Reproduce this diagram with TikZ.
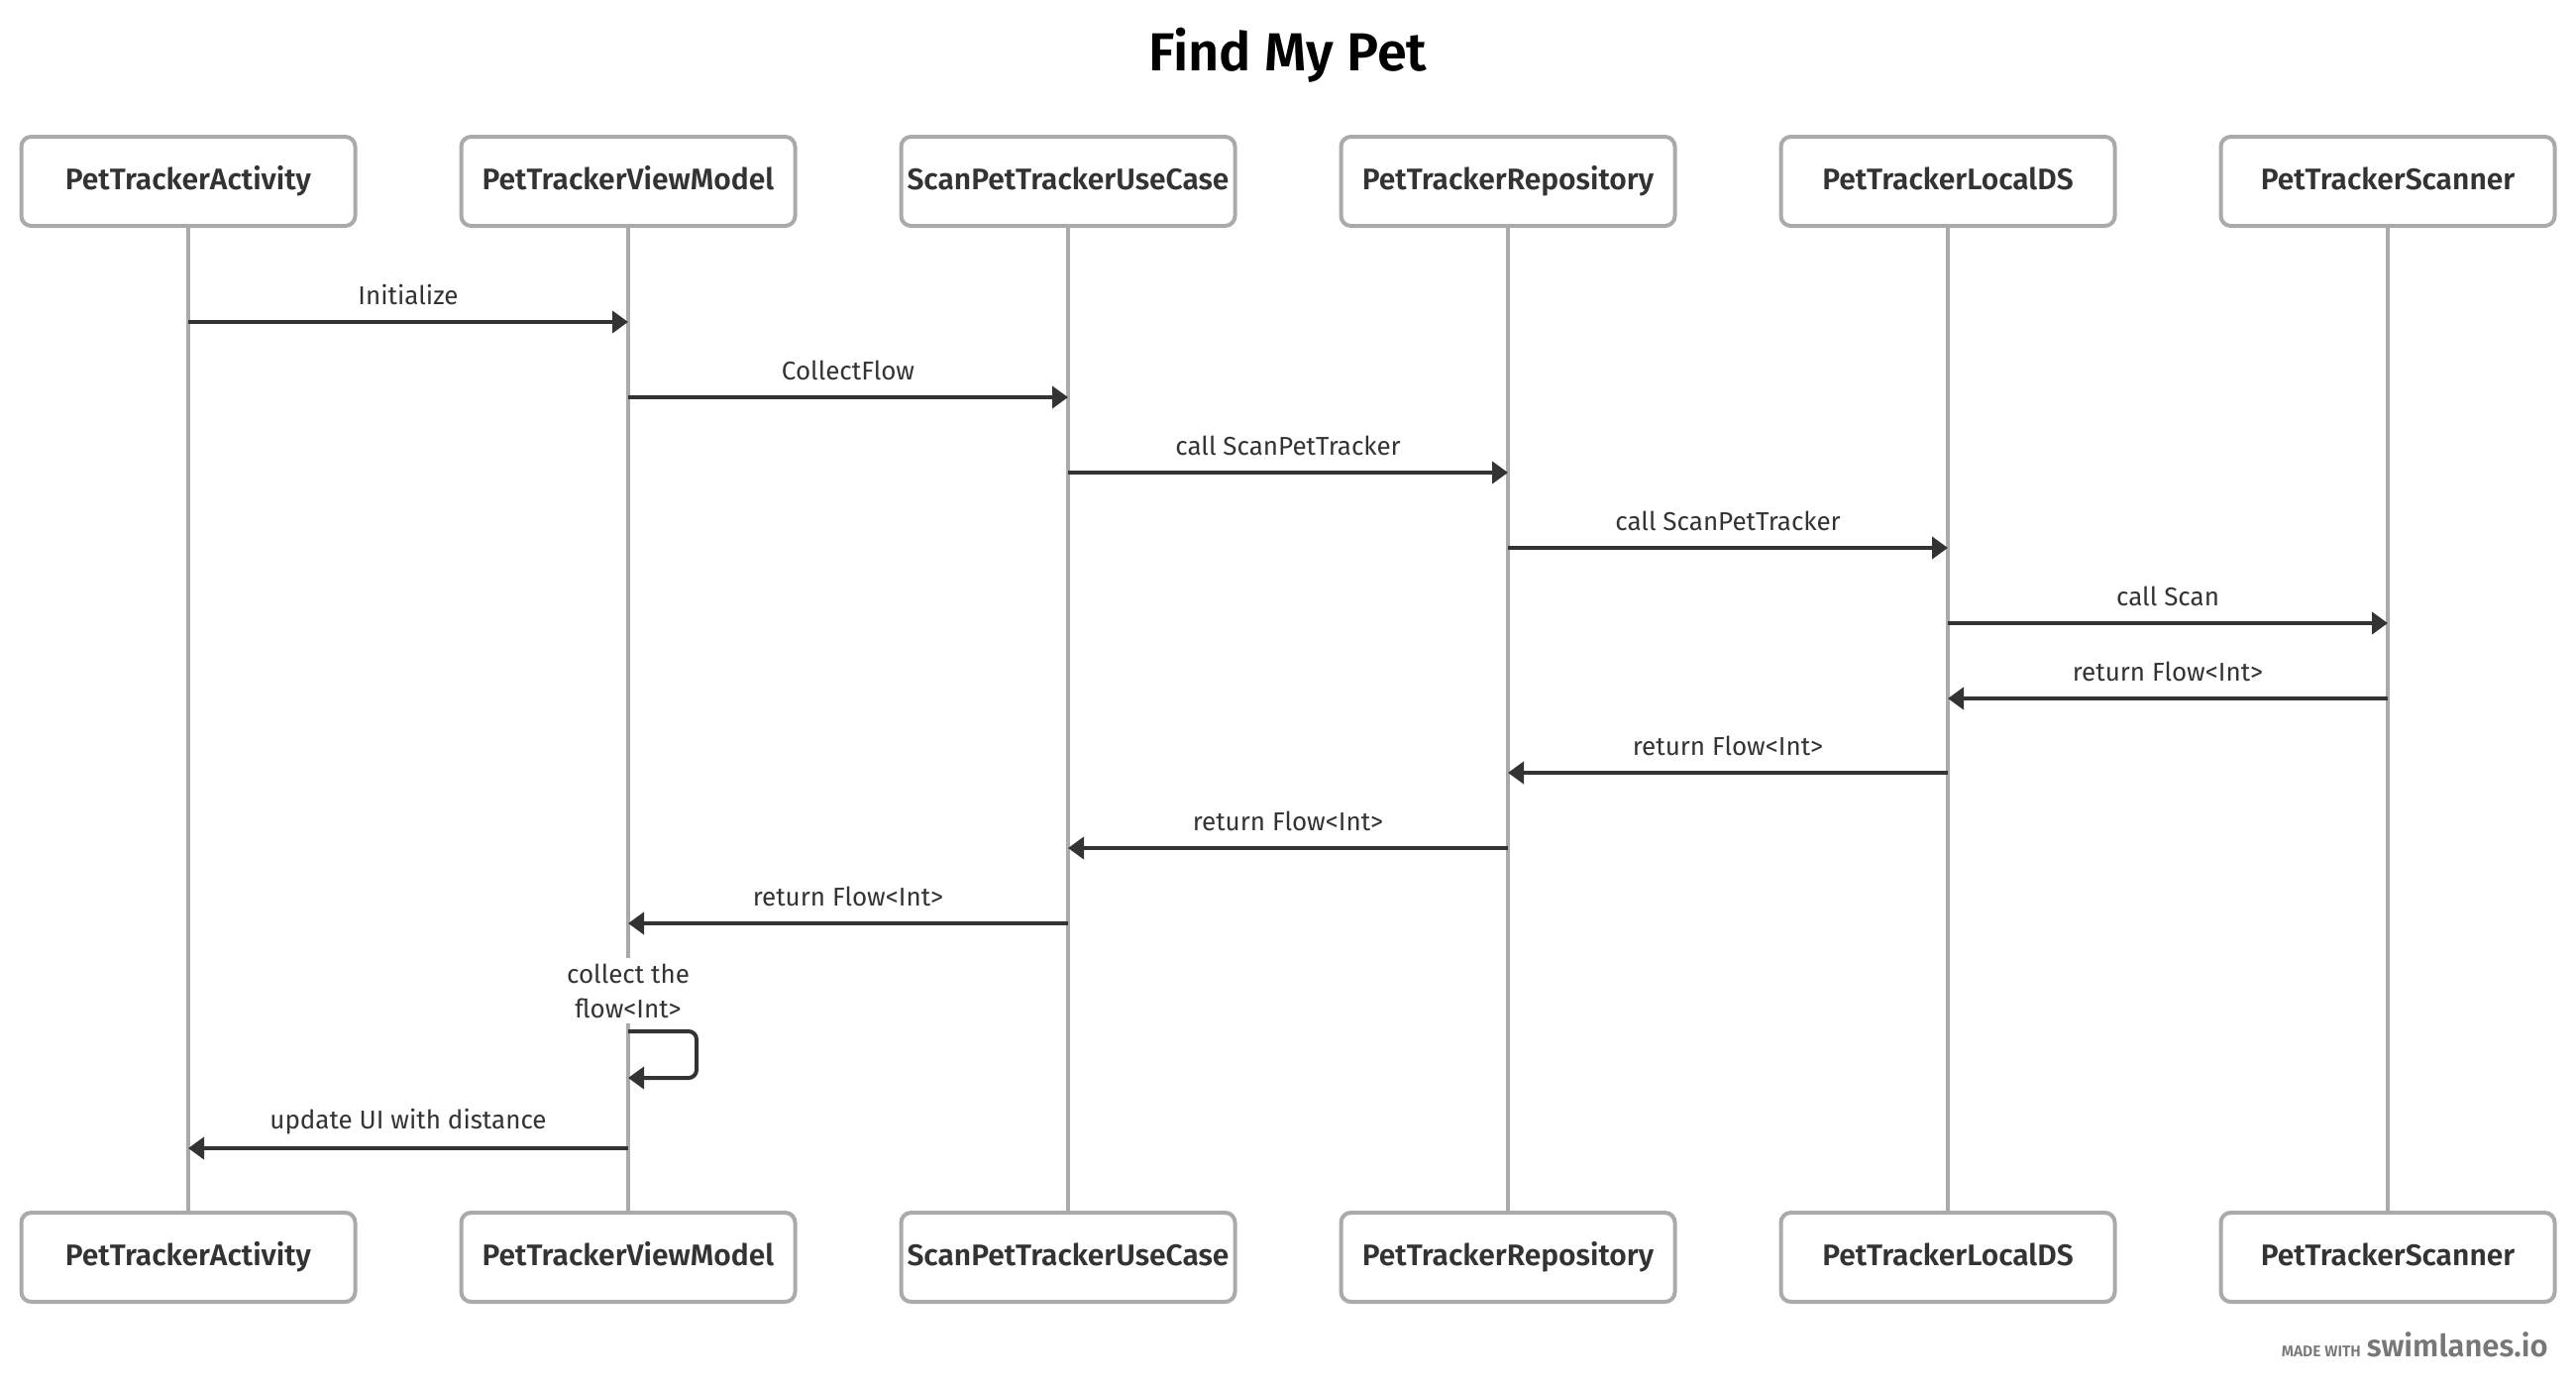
\documentclass[tikz,border=0pt]{standalone}
\usepackage{fontspec}
\setmainfont{Fira Sans}[BoldFont={Fira Sans SemiBold}]
\usetikzlibrary{arrows.meta}
\definecolor{boxgray}{HTML}{AAAAAA}
\definecolor{ink}{HTML}{333333}
\definecolor{wmgray}{HTML}{777777}
\begin{document}
\begin{tikzpicture}[x=0.5pt,y=-0.5pt,
  actor/.style={draw=boxgray, line width=2pt, rounded corners=5pt, fill=white,
    minimum width=168.5pt, minimum height=45pt, inner sep=0pt, text=ink,
    text height=1.05em, text depth=0.2em,
    font=\bfseries\fontsize{15}{18}\selectfont},
  life/.style={draw=boxgray, line width=1.6pt},
  msg/.style={draw=ink, line width=2pt, -{Triangle[length=8pt,width=11pt]}},
  lbl/.style={text=ink, font=\fontsize{13}{17.5}\selectfont, inner sep=1pt},
  ttl/.style={text=black, font=\bfseries\fontsize{27}{32}\selectfont}]
\useasboundingbox (0,0) rectangle (2600,1398);
\node[ttl] (title) at (1300,56) {Find My Pet};
\foreach \i/\n/\nm in {0/A/PetTrackerActivity,1/B/PetTrackerViewModel,2/C/ScanPetTrackerUseCase,3/D/PetTrackerRepository,4/E/PetTrackerLocalDS,5/F/PetTrackerScanner}{
  \node[actor] (t\n) at ({190+444*\i},183) {\nm};
  \node[actor] (b\n) at ({190+444*\i},1269) {\nm};
  \draw[life] (t\n.south) -- (b\n.north);
}
% message end points
\foreach \k/\p/\q/\y in {1/A/B/325,2/B/C/401,3/C/D/477,4/D/E/553,5/E/F/629,6/F/E/705,7/E/D/780,8/D/C/856,9/C/B/932,10/B/A/1159}{
  \coordinate (m\k s) at (t\p |- 0,\y);
  \coordinate (m\k e) at (t\q |- 0,\y);
}
\draw[msg] (m1s) -- node[lbl, midway, yshift=13.5pt]{Initialize} (m1e);
\draw[msg] (m2s) -- node[lbl, midway, yshift=13.5pt]{CollectFlow} (m2e);
\draw[msg] (m3s) -- node[lbl, midway, yshift=13.5pt]{call ScanPetTracker} (m3e);
\draw[msg] (m4s) -- node[lbl, midway, yshift=13.5pt]{call ScanPetTracker} (m4e);
\draw[msg] (m5s) -- node[lbl, midway, yshift=13.5pt]{call Scan} (m5e);
\draw[msg] (m6s) -- node[lbl, midway, yshift=13.5pt]{return Flow<Int>} (m6e);
\draw[msg] (m7s) -- node[lbl, midway, yshift=13.5pt]{return Flow<Int>} (m7e);
\draw[msg] (m8s) -- node[lbl, midway, yshift=13.5pt]{return Flow<Int>} (m8e);
\draw[msg] (m9s) -- node[lbl, midway, yshift=13.5pt]{return Flow<Int>} (m9e);
% self message
\node[lbl, fill=white, align=center, inner sep=3pt] (coll) at (634,1000) {collect the\\flow<Int>};
\coordinate (sl1) at (tB |- 0,1041);
\coordinate (sl2) at (tB |- 0,1088);
\coordinate (slr1) at (703,1041);
\coordinate (slr2) at (703,1088);
\draw[msg, rounded corners=4pt] (sl1) -- (slr1) -- (slr2) -- (sl2);
\draw[msg] (m10s) -- node[lbl, midway, yshift=13.5pt]{update UI with distance} (m10e);
% watermark
\node[anchor=base east, text=wmgray, inner sep=0pt, font=\bfseries] (wm) at (2572,1369)
  {{\fontsize{7.8}{9}\selectfont MADE WITH}\hspace{3pt}{\fontsize{15.5}{18}\selectfont swimlanes.io}};
\end{tikzpicture}
\end{document}
